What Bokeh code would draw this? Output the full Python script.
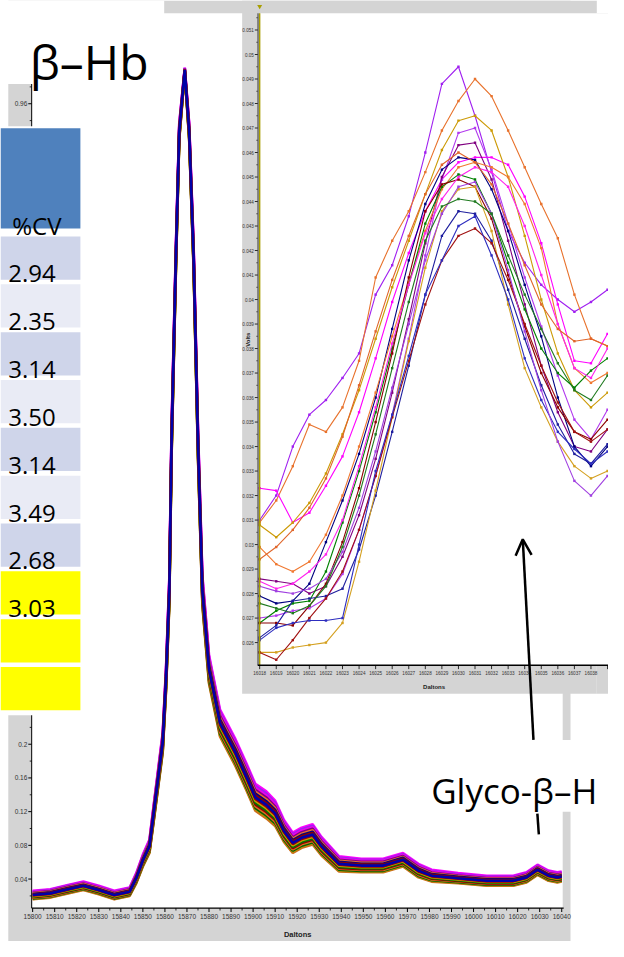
import numpy as np
from bokeh.plotting import figure
from bokeh.models import Range1d, Arrow, OpenHead
from bokeh.core.properties import value
from bokeh.embed import file_html
from bokeh.resources import INLINE

# main spectrum: band of overlaid replicate traces (Daltons, relative intensity)
spec_da = [15800, 15808, 15816, 15823, 15830, 15837, 15844, 15847, 15850, 15853,
           15855, 15857, 15859, 15860.5, 15862, 15863, 15865, 15866.5, 15869, 15871,
           15873, 15875, 15877, 15880, 15885, 15892, 15897, 15901, 15906, 15910,
           15914, 15918, 15922, 15927, 15931, 15939, 15949, 15959, 15968, 15975,
           15981, 15993, 16006, 16018, 16024, 16029, 16034, 16038, 16040]
spec_mid = [0.021, 0.023, 0.028, 0.032, 0.027, 0.021, 0.025, 0.041, 0.062, 0.079,
            0.120, 0.161, 0.202, 0.277, 0.382, 0.557, 0.779, 0.927, 1.000, 0.927,
            0.779, 0.557, 0.382, 0.289, 0.225, 0.190, 0.161, 0.137, 0.128, 0.118,
            0.097, 0.083, 0.089, 0.093, 0.079, 0.058, 0.056, 0.056, 0.063, 0.050,
            0.044, 0.041, 0.038, 0.038, 0.042, 0.051, 0.044, 0.042, 0.043]
spec_half = [0.005, 0.005, 0.005, 0.005, 0.005, 0.005, 0.005, 0.006, 0.007, 0.008,
             0.010, 0.011, 0.012, 0.014, 0.016, 0.018, 0.015, 0.010, 0.003, 0.010,
             0.015, 0.018, 0.018, 0.017, 0.016, 0.016, 0.016, 0.016, 0.016, 0.015,
             0.013, 0.012, 0.012, 0.012, 0.011, 0.009, 0.008, 0.008, 0.008, 0.008,
             0.007, 0.006, 0.006, 0.006, 0.006, 0.006, 0.006, 0.006, 0.006]
band_pos = [1.0, 0.85, 0.7, 0.55, 0.4, 0.27, 0.14, 0.0,
            -0.12, -0.25, -0.4, -0.52, -0.65, -0.78, -0.9, -1.0]
band_colors = ["#FF00FF", "#A020F0", "#EE00EE", "#800080", "#E8722C", "#000080",
               "#8B0000", "#0000A8", "#990000", "#CC9900", "#007700", "#8B0000",
               "#E06A20", "#006400", "#B8860B", "#D2691E"]

main_x_ticks = [15800, 15810, 15820, 15830, 15840, 15850, 15860, 15870, 15880,
                15890, 15900, 15910, 15920, 15930, 15940, 15950, 15960, 15970,
                15980, 15990, 16000, 16010, 16020, 16030, 16040]
main_y_ticks = [0.04, 0.08, 0.12, 0.16, 0.2, 0.24, 0.28, 0.32, 0.36, 0.4, 0.44, 0.48,
                0.52, 0.56, 0.6, 0.64, 0.68, 0.72, 0.76, 0.8, 0.84, 0.88, 0.92, 0.96]
main_y_labels = ["0.04", "0.08", "0.12", "0.16", "0.2", "0.24", "0.28", "0.32",
                 "0.36", "0.4", "0.44", "0.48", "0.52", "0.56", "0.6", "0.64",
                 "0.68", "0.72", "0.76", "0.8", "0.84", "0.88", "0.92", "0.96"]

# inset: glyco-beta-Hb region, values in mV
inset_da = [16018, 16019, 16020, 16021, 16022, 16023, 16024, 16025, 16026, 16027, 16028,
            16029, 16030, 16031, 16032, 16033, 16034, 16035, 16036, 16037, 16038, 16039]
trace_01 = [31.0, 32.0, 34.0, 35.3, 35.9, 36.8, 37.8, 40.2, 41.4, 43.4, 46.0, 48.8, 49.5, 47.5, 45.2, 42.8, 41.5, 40.6, 40.0, 39.5, 39.9, 40.4]
trace_02 = [30.9, 31.8, 33.2, 34.9, 34.6, 35.6, 37.5, 40.9, 42.4, 43.6, 45.2, 46.9, 48.1, 49.0, 48.3, 46.9, 45.4, 43.9, 42.5, 40.2, 38.4, 38.1]
trace_03 = [32.3, 32.2, 30.9, 31.3, 32.4, 33.6, 35.4, 37.6, 39.9, 41.9, 43.6, 44.9, 45.6, 45.8, 45.8, 45.5, 44.2, 42.3, 39.8, 37.5, 37.4, 38.6]
trace_04 = [30.8, 30.3, 30.9, 31.7, 32.9, 34.5, 36.3, 38.4, 40.5, 42.4, 44.3, 46.1, 47.3, 47.5, 46.9, 45.0, 42.6, 40.0, 37.8, 36.3, 35.6, 36.2]
trace_05 = [27.0, 27.1, 27.3, 27.4, 27.8, 28.8, 30.6, 32.8, 35.3, 38.4, 41.8, 44.9, 46.8, 47.0, 45.3, 43.1, 40.9, 38.9, 36.9, 35.1, 34.3, 35.5]
trace_06 = [28.6, 28.5, 28.4, 28.0, 28.3, 29.5, 31.2, 33.5, 36.2, 39.2, 42.3, 45.0, 46.3, 46.4, 44.9, 42.4, 39.8, 37.3, 35.4, 34.0, 33.8, 34.7]
trace_07 = [27.9, 27.6, 27.7, 28.4, 30.1, 31.8, 33.7, 36.0, 38.8, 41.6, 43.9, 45.3, 45.8, 45.7, 44.5, 42.8, 40.6, 38.5, 36.0, 34.0, 33.2, 34.0]
trace_08 = [29.9, 29.2, 28.9, 29.3, 30.4, 32.0, 34.0, 36.2, 38.5, 40.7, 42.8, 44.5, 45.4, 45.6, 45.4, 45.0, 43.9, 42.1, 39.0, 37.2, 36.6, 37.0]
trace_09 = [26.8, 27.3, 27.6, 27.7, 28.9, 30.9, 33.0, 35.4, 38.0, 40.6, 43.1, 44.6, 45.1, 44.9, 43.5, 41.5, 39.6, 38.0, 37.0, 36.4, 37.1, 37.6]
trace_10 = [26.8, 26.8, 26.7, 27.5, 28.4, 30.1, 32.3, 35.0, 37.8, 40.9, 43.6, 44.7, 44.9, 44.6, 43.3, 41.0, 38.9, 37.0, 35.6, 34.6, 34.3, 35.1]
trace_11 = [28.5, 28.2, 28.4, 28.9, 29.6, 31.0, 33.2, 35.6, 38.2, 40.6, 42.7, 44.1, 45.0, 45.4, 45.2, 44.6, 43.0, 41.0, 39.0, 37.2, 36.8, 38.0]
trace_12 = [26.2, 26.7, 27.7, 27.8, 27.9, 28.2, 29.8, 32.0, 34.6, 37.3, 40.2, 42.6, 43.6, 43.5, 42.4, 40.4, 38.4, 36.5, 34.9, 33.7, 33.3, 34.1]
trace_13 = [25.6, 25.6, 25.8, 25.9, 26.0, 26.8, 29.3, 32.2, 35.2, 38.3, 41.3, 43.6, 44.5, 44.6, 42.8, 39.8, 37.2, 35.6, 34.2, 33.2, 32.7, 33.0]
trace_14 = [25.6, 25.3, 26.1, 27.0, 27.8, 28.9, 30.6, 32.8, 35.2, 37.5, 39.8, 41.6, 42.6, 42.9, 42.3, 40.8, 39.0, 37.3, 35.8, 34.6, 34.2, 34.7]
trace_15 = [26.1, 26.6, 26.8, 26.9, 26.9, 27.0, 30.0, 33.0, 35.3, 37.7, 40.2, 41.6, 43.0, 43.4, 41.8, 40.0, 37.6, 35.9, 34.6, 33.9, 33.3, 33.8]
trace_16 = [28.3, 28.1, 28.0, 28.2, 28.6, 29.7, 31.5, 33.8, 36.4, 39.0, 41.6, 43.5, 44.6, 44.8, 43.5, 41.2, 38.7, 36.3, 34.2, 32.6, 32.0, 32.8]
trace_17 = [27.6, 27.4, 27.2, 27.5, 28.3, 29.9, 32.0, 34.5, 37.2, 39.9, 42.4, 43.8, 44.1, 44.0, 43.5, 41.8, 40.2, 38.8, 37.4, 36.3, 35.9, 36.9]
trace_18 = [29.4, 29.9, 30.6, 31.5, 32.7, 34.4, 36.5, 38.7, 40.8, 42.6, 44.3, 45.5, 46.0, 45.6, 44.7, 43.1, 41.4, 39.8, 38.8, 38.3, 38.4, 38.1]
inset_traces = [trace_01, trace_02, trace_03, trace_04, trace_05, trace_06, trace_07,
                trace_08, trace_09, trace_10, trace_11, trace_12, trace_13, trace_14,
                trace_15, trace_16, trace_17, trace_18]
trace_colors = ["#A020F0", "#E8722C", "#FF00FF", "#CC9A06", "#B23AEE", "#800080",
                "#000080", "#F07830", "#008000", "#8B0000", "#FF22EE", "#1E1E9E",
                "#D4A020", "#A01010", "#2E2EBF", "#A040E0", "#1F7A1F", "#E0662A"]

inset_x_ticks = inset_da
inset_x_labels = [str(t) for t in inset_da[:-1]]   # last label falls off the slide
inset_y_ticks = [0.026, 0.027, 0.028, 0.029, 0.030, 0.031, 0.032, 0.033, 0.034,
                 0.035, 0.036, 0.037, 0.038, 0.039, 0.040, 0.041, 0.042, 0.043,
                 0.044, 0.045, 0.046, 0.047, 0.048, 0.049, 0.050, 0.051]
inset_y_labels = ["0.026", "0.027", "0.028", "0.029", "0.03", "0.031", "0.032",
                  "0.033", "0.034", "0.035", "0.036", "0.037", "0.038", "0.039",
                  "0.04", "0.041", "0.042", "0.043", "0.044", "0.045", "0.046",
                  "0.047", "0.048", "0.049", "0.05", "0.051"]

# table of %CV
cv_header = "%CV"
cv_values = ["2.94", "2.35", "3.14", "3.50", "3.14", "3.49", "2.68", "3.03", "", ""]
row_colors = ["#CFD5EA", "#E9EBF5", "#CFD5EA", "#E9EBF5", "#CFD5EA", "#E9EBF5",
              "#CFD5EA", "#FFFF00", "#FFFF00", "#FFFF00"]

W, H = 624, 957
GREY = "#D4D4D4"
SANS = value("Open Sans")
TICKF = value("Liberation Sans")


def mapped_range(p0, v0, p1, v1, lo_px, hi_px):
    k = (v1 - v0) / (p1 - p0)
    return Range1d(start=v0 + (lo_px - p0) * k, end=v0 + (hi_px - p0) * k)


p = figure(width=608, height=941, x_range=Range1d(0, W), y_range=Range1d(H, 0),
           x_axis_type=None, y_axis_type=None, output_backend="svg",
           toolbar_location=None, min_border=0)
p.outline_line_color = None
p.background_fill_color = "white"
p.border_fill_color = "white"
p.extra_x_ranges = {"da": mapped_range(33, 15800, 576, 16040, 0, W),
                    "ix": mapped_range(266, 16018, 623, 16039, 0, W)}
p.extra_y_ranges = {"int": mapped_range(893.5, 0.04, 105, 0.96, H, 0),
                    "iy": mapped_range(653, 0.026, 30, 0.051, H, 0)}

# main chart frame
p.quad(left=[8], right=[585], top=[0], bottom=[H], fill_color=GREY, line_color=None)
p.quad(left=[32], right=[577], top=[13], bottom=[923], fill_color="white", line_color=None)

# main axes
p.segment(x0=[32], y0=[13], x1=[32], y1=[923], line_color="black", line_width=1)
p.segment(x0=[32], y0=[923], x1=[578], y1=[923], line_color="black", line_width=1.2)
nx = len(main_x_ticks)
p.segment(x0=main_x_ticks, x1=main_x_ticks, y0=[923] * nx, y1=[927] * nx,
          x_range_name="da", line_color="black", line_width=1)
minor_x = [t for t in np.arange(15800, 16041, 5) if t % 10]
p.segment(x0=minor_x, x1=minor_x, y0=[923] * len(minor_x), y1=[925.5] * len(minor_x),
          x_range_name="da", line_color="black", line_width=0.8)
p.text(x=main_x_ticks, y=[929] * nx, text=[str(t) for t in main_x_ticks],
       x_range_name="da", text_align="center", text_baseline="top",
       text_font=TICKF, text_font_size="6.5px", text_color="#333333")
ny = len(main_y_ticks)
p.segment(x0=[28.5] * ny, x1=[32] * ny, y0=main_y_ticks, y1=main_y_ticks,
          y_range_name="int", line_color="black", line_width=1)
minor_y = [t - 0.02 for t in main_y_ticks] + [0.98]
p.segment(x0=[30] * len(minor_y), x1=[32] * len(minor_y), y0=minor_y, y1=minor_y,
          y_range_name="int", line_color="black", line_width=0.8)
p.text(x=[27.5] * ny, y=main_y_ticks, text=main_y_labels, y_range_name="int",
       text_align="right", text_baseline="middle", text_font=TICKF,
       text_font_size="6.5px", text_color="#333333")
p.text(x=[305], y=[950], text=["Daltons"], text_align="center", text_baseline="middle",
       text_font=TICKF, text_font_size="7.5px", text_font_style="bold", text_color="#222222")

# replicate traces, outer ones first so the core of the band stays on top
mid = np.array(spec_mid)
half = np.array(spec_half)
for i in sorted(range(len(band_pos)), key=lambda k: -abs(band_pos[k])):
    p.line(spec_da, mid + half * band_pos[i], x_range_name="da", y_range_name="int",
           line_color=band_colors[i], line_width=2.6)

# title box
p.quad(left=[0], right=[168], top=[0], bottom=[85], fill_color="white", line_color=None)
p.text(x=[30], y=[62], text=["β–Hb"], text_font=SANS, text_font_size="48px",
       text_baseline="alphabetic", text_color="black")

# %CV table
p.quad(left=[0], right=[82], top=[128], bottom=[727], fill_color="white", line_color=None)
p.quad(left=[0], right=[82], top=[130], bottom=[232], fill_color="#4F81BD", line_color=None)
p.text(x=[12], y=[229], text=[cv_header], text_font=SANS, text_font_size="24px",
       text_baseline="alphabetic", text_color="black")
row_top = [240 + 48.65 * k for k in range(len(cv_values))]
row_bot = [t + 44 for t in row_top]
p.quad(left=[0] * len(row_top), right=[82] * len(row_top), top=row_top, bottom=row_bot,
       fill_color=row_colors, line_color=None)
p.text(x=[8] * len(cv_values), y=[b - 6 for b in row_bot], text=cv_values,
       text_font=SANS, text_font_size="24px", text_baseline="alphabetic",
       text_color="black")

# inset panel
p.quad(left=[248], right=[612], top=[0], bottom=[705], fill_color=GREY, line_color=None)
p.quad(left=[612], right=[W], top=[13], bottom=[705], fill_color=GREY, line_color=None)
p.quad(left=[266], right=[W], top=[13], bottom=[676], fill_color="white", line_color=None)
for tr, col in zip(inset_traces, trace_colors):
    vals = np.array(tr) / 1000.0
    p.line(inset_da, vals, x_range_name="ix", y_range_name="iy",
           line_color=col, line_width=1.1)
    p.scatter(inset_da, vals, x_range_name="ix", y_range_name="iy", marker="square",
              size=2.4, fill_color=col, line_color=None)

p.segment(x0=[264.3], y0=[13], x1=[264.3], y1=[676], line_color="#333333", line_width=1)
p.segment(x0=[266], y0=[13], x1=[266], y1=[676], line_color="#A89E00", line_width=1.4)
p.scatter([266], [6], marker="inverted_triangle", size=5, fill_color="#A89E00",
          line_color=None)
p.segment(x0=[264], y0=[676], x1=[W], y1=[676], line_color="black", line_width=1.4)
nix = len(inset_x_ticks)
p.segment(x0=inset_x_ticks, x1=inset_x_ticks, y0=[676] * nix, y1=[680] * nix,
          x_range_name="ix", line_color="black", line_width=0.8)
p.text(x=inset_x_ticks[:len(inset_x_labels)], y=[682] * len(inset_x_labels),
       text=inset_x_labels, x_range_name="ix", text_align="center", text_baseline="top",
       text_font=TICKF, text_font_size="4.6px", text_color="#333333")
niy = len(inset_y_ticks)
p.segment(x0=[261] * niy, x1=[264] * niy, y0=inset_y_ticks, y1=inset_y_ticks,
          y_range_name="iy", line_color="black", line_width=0.8)
minor_iy = [t + 0.0005 for t in inset_y_ticks]
p.segment(x0=[262.5] * niy, x1=[264] * niy, y0=minor_iy, y1=minor_iy,
          y_range_name="iy", line_color="black", line_width=0.6)
p.text(x=[260] * niy, y=inset_y_ticks, text=inset_y_labels, y_range_name="iy",
       text_align="right", text_baseline="middle", text_font=TICKF,
       text_font_size="4.6px", text_color="#333333")
p.text(x=[445], y=[698], text=["Daltons"], text_align="center", text_baseline="middle",
       text_font=TICKF, text_font_size="6px", text_font_style="bold", text_color="#222222")
p.text(x=[254], y=[345], text=["Volts"], angle=np.pi / 2, text_align="center",
       text_baseline="middle", text_font=TICKF, text_font_size="6px",
       text_font_style="bold", text_color="#222222")

# glyco label and arrow
p.quad(left=[440], right=[W], top=[752], bottom=[825], fill_color="white", line_color=None)
p.text(x=[442], y=[803], text=["Glyco-β–H"], text_font=SANS, text_font_size="35px",
       text_baseline="alphabetic", text_color="black")
p.segment(x0=[551], y0=[827], x1=[552.5], y1=[848], line_color="black", line_width=2.5)
p.add_layout(Arrow(end=OpenHead(size=16, line_width=2.5, line_color="black"),
                   x_start=547, y_start=752, x_end=536, y_end=548,
                   line_color="black", line_width=2.5))

open("out.html", "w").write(file_html(p, INLINE))
